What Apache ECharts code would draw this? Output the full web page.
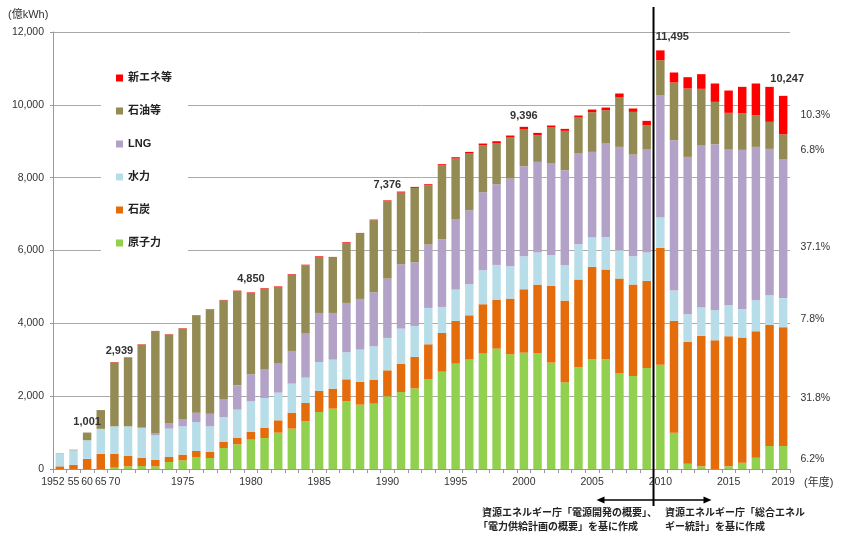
<!DOCTYPE html>
<html><head><meta charset="utf-8">
<script src="https://cdn.jsdelivr.net/npm/echarts/dist/echarts.min.js"></script>
<style>html,body{margin:0;padding:0;background:#fff}#c{width:850px;height:546px}</style>
</head><body><div id="c"></div>
<script>
const categories = ['1952','1955','1960','1965','1970','1971','1972','1973','1974','1975','1976','1977','1978','1979','1980','1981','1982','1983','1984','1985','1986','1987','1988','1989','1990','1991','1992','1993','1994','1995','1996','1997','1998','1999','2000','2001','2002','2003','2004','2005','2006','2007','2008','2009','2010','2011','2012','2013','2014','2015','2016','2017','2018','2019'];

const nuclear = [0,0,0,0, 37,73,82,73,192,238,330,302,577,678, 806,852,998,1108,1309,1566,1657,1859,1767,1795, 1996,2115,2216,2463,2674,2894,3003,3168,3306,3150, 3196,3177,2921,2381,2802,3022,3013,2619,2555,2775, 2866,998,147,73,0,73,174,311,632,635];
const coal = [73,115,280,416, 384,293,229,183,138,156,164,165,165,174, 210,283,339,440,504,577,550,604,623,659, 714,779,861,962,1062,1172,1218,1356,1346,1529, 1740,1887,2106,2243,2399,2527,2463,2610,2509,2390, 3205,3068,3342,3581,3535,3572,3434,3471,3324,3259];
const hydro = [348,400,510,687, 751,806,824,669,778,778,797,705,686,778, 843,815,760,796,696,796,796,742,888,916, 889,961,851,998,714,860,852,934,952,888, 906,879,852,971,971,806,897,778,778,778, 833,833,760,778,824,851,787,852,815,799];
const lng = [0,0,0,0, 0,0,0,64,156,202,257,348,495,668, 742,779,797,898,1209,1346,1282,1355,1392,1483, 1630,1767,1749,1740,1859,1923,2033,2142,2216,2409, 2473,2491,2509,2610,2491,2353,2564,2839,2793,2829, 3352,4130,4322,4450,4560,4276,4368,4212,4020,3802];
const oil = [10,15,211,515, 1757,1886,2281,2793,2426,2481,2664,2857,2710,2592, 2234,2225,2106,2097,1877,1539,1521,1648,1795,1978, 2124,1969,2042,1630,2033,1676,1557,1291,1117,1126, 1007,732,989,1080,988,1090,916,1355,1172,669, 970,1584,1877,1557,1163,1008,1008,870,742,697];
const newEnergy = [0,0,0,0, 10,10,10,10,10,10,10,10,10,10, 15,15,15,15,15,18,18,19,18,18, 23,27,28,27,28,37,45,46,64,55, 74,64,55,55,55,73,73,110,92,119, 269,275,311,403,504,613,723,870,961,1055];

const seriesNames = ['原子力','石炭','水力','LNG','石油等','新エネ等'];
const legendOrder = ['新エネ等','石油等','LNG','水力','石炭','原子力'];
const totalLabelYears = ['1960','1970','1980','1990','2000','2010','2019'];
const tickYears = ['1952','1955','1960','1965','1970','1975','1980','1985','1990','1995','2000','2005','2010','2015','2019'];
const tickTexts = ['1952','55','60','65','70','1975','1980','1985','1990','1995','2000','2005','2010','2015','2019'];
const yTicks = [0,2000,4000,6000,8000,10000,12000];

const colors = ['#92D050','#E46C0A','#B7DEE8','#B3A2C7','#948A54','#FF0000'];
const FONT = "'Liberation Sans', Arial, 'Noto Sans CJK JP', sans-serif";
const TXT = '#333';

const valueArrays = [nuclear, coal, hydro, lng, oil, newEnergy];
const last = categories.length - 1;
const totals = categories.map((_, i) => valueArrays.reduce((s, a) => s + a[i], 0));
const pctOffsets = {'原子力':[0,2],'石炭':[0,12],'水力':[0,6],'LNG':[0,18],'石油等':[0,3],'新エネ等':[0,0]};
const totalOffsets = {'1970':[5,0],'1980':[0,-2],'1990':[0,-4],'2010':[12,-2],'2019':[4,-6]};

const barSeries = seriesNames.map((name, k) => ({
  name, type: 'bar', stack: 'total', barCategoryGap: '38%',
  itemStyle: {color: colors[k]},
  emphasis: {disabled: true},
  data: valueArrays[k].map((v, i) => i === last ? {
    value: v,
    label: {show: true, position: 'right', distance: 13, offset: pctOffsets[name],
      formatter: (v / totals[last] * 100).toFixed(1) + '%', color: TXT, fontSize: 10.5, fontFamily: FONT}
  } : v)
}));

const totalSeries = {
  name: 'total', type: 'line', silent: true, z: 10,
  showAllSymbol: true, symbol: 'circle', symbolSize: 1,
  itemStyle: {color: 'rgba(0,0,0,0)'}, lineStyle: {opacity: 0},
  data: categories.map((c, i) => totalLabelYears.includes(c)
    ? {value: totals[i], label: {offset: totalOffsets[c] || [0, 0]}} : '-'),
  label: {show: true, position: 'top', distance: 5, fontSize: 11, fontWeight: 'bold',
    color: TXT, fontFamily: FONT, formatter: p => Number(p.value).toLocaleString('en-US')}
};

const chart = echarts.init(document.getElementById('c'), null, {renderer: 'canvas'});
chart.setOption({
  animation: false,
  backgroundColor: '#fff',
  grid: {left: 53, right: 60, top: 32, bottom: 77, containLabel: false, outerBoundsMode: 'none'},
  legend: {
    orient: 'vertical', left: 101, top: 60, padding: [11, 16, 11, 15], backgroundColor: '#fff',
    itemWidth: 7, itemHeight: 7, itemGap: 19, icon: 'rect', selectedMode: false,
    textStyle: {fontSize: 11, lineHeight: 14, color: '#222', fontFamily: FONT, fontWeight: 'bold'},
    data: legendOrder
  },
  xAxis: {
    type: 'category', data: categories,
    axisLine: {lineStyle: {color: '#999'}},
    axisTick: {show: true, interval: 0, length: 4, lineStyle: {color: '#999'}},
    axisLabel: {
      interval: 0, hideOverlap: false, margin: 8, fontSize: 10.5, color: TXT, fontFamily: FONT,
      formatter: v => { const j = tickYears.indexOf(v); if (j < 0) return ''; return j === 0 ? '{s|' + tickTexts[j] + '}' : tickTexts[j]; },
      rich: {s: {padding: [0, 14, 0, 0], fontSize: 10.5, color: TXT, fontFamily: FONT}}
    },
    splitLine: {show: false}
  },
  yAxis: {
    type: 'value', min: yTicks[0], max: yTicks[yTicks.length - 1], interval: yTicks[1] - yTicks[0],
    axisLine: {show: true, lineStyle: {color: '#999'}},
    axisTick: {show: true, length: 3, lineStyle: {color: '#999'}},
    axisLabel: {margin: 9, fontSize: 10.5, color: TXT, fontFamily: FONT, formatter: v => v.toLocaleString('en-US')},
    splitLine: {lineStyle: {color: '#AAAAAA', width: 1}}
  },
  series: [...barSeries, totalSeries]
});

const x09 = chart.convertToPixel({xAxisIndex: 0}, '2009');
const x10 = chart.convertToPixel({xAxisIndex: 0}, '2010');
const xb = (x09 + x10) / 2;
const ay = 500;
const small = (t, x, y) => ({type: 'text', silent: true, style: {text: t, x, y, fill: '#222', font: 'bold 10px ' + FONT, textVerticalAlign: 'middle'}});
chart.setOption({
  graphic: [
    {type: 'text', silent: true, style: {text: '(億kWh)', x: 8, y: 15, fill: TXT, font: '11px ' + FONT, textVerticalAlign: 'middle'}},
    {type: 'text', silent: true, style: {text: '(年度)', x: 804, y: 483, fill: TXT, font: '11px ' + FONT, textVerticalAlign: 'middle'}},
    {type: 'line', silent: true, z: 100, shape: {x1: xb, y1: 7, x2: xb, y2: 506}, style: {stroke: '#000', lineWidth: 2}},
    {type: 'line', silent: true, shape: {x1: xb, y1: ay, x2: xb - 50, y2: ay}, style: {stroke: '#000', lineWidth: 1.3}},
    {type: 'polygon', silent: true, shape: {points: [[xb - 57, ay], [xb - 49, ay - 3.5], [xb - 49, ay + 3.5]]}, style: {fill: '#000'}},
    {type: 'line', silent: true, shape: {x1: xb, y1: ay, x2: xb + 51, y2: ay}, style: {stroke: '#000', lineWidth: 1.3}},
    {type: 'polygon', silent: true, shape: {points: [[xb + 58, ay], [xb + 50, ay - 3.5], [xb + 50, ay + 3.5]]}, style: {fill: '#000'}},
    small('資源エネルギー庁「電源開発の概要」、', 482, 513),
    small('「電力供給計画の概要」を基に作成', 478, 527),
    small('資源エネルギー庁「総合エネル', 665, 513),
    small('ギー統計」を基に作成', 665, 527)
  ]
});
</script></body></html>
